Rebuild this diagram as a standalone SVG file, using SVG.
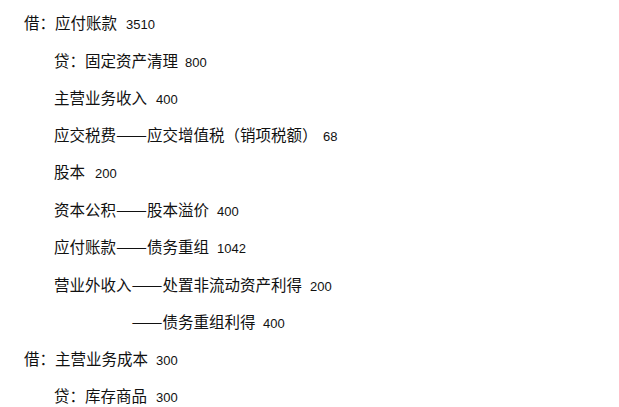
<svg xmlns="http://www.w3.org/2000/svg" width="619" height="407" viewBox="0 0 619 407">
<style>
.t{font-family:"Noto Sans CJK SC","Noto Sans",sans-serif;font-size:15.5px;fill:#111}
.n{font-family:"Liberation Sans",Arial,sans-serif;font-size:13px;fill:#111}
</style>
<rect width="619" height="407" fill="#fff"/>
<g id="line1"><text class="t" x="24" y="28.5">借：应付账款</text><text class="n" x="126" y="28.5">3510</text></g>
<g id="line2"><text class="t" x="54" y="66.5">贷：固定资产清理</text><text class="n" x="185" y="66.5">800</text></g>
<g id="line3"><text class="t" x="54" y="103.5">主营业务收入</text><text class="n" x="156" y="103.5">400</text></g>
<g id="line4"><text class="t" x="54" y="140.5">应交税费<tspan x="116" textLength="31" lengthAdjust="spacingAndGlyphs">——</tspan><tspan x="147">应交增值税（销项税额）</tspan></text><text class="n" x="323" y="140.5">68</text></g>
<g id="line5"><text class="t" x="54" y="178">股本</text><text class="n" x="95" y="178">200</text></g>
<g id="line6"><text class="t" x="54" y="215.5">资本公积<tspan x="116" textLength="31" lengthAdjust="spacingAndGlyphs">——</tspan><tspan x="147">股本溢价</tspan></text><text class="n" x="217" y="215.5">400</text></g>
<g id="line7"><text class="t" x="54" y="252.5">应付账款<tspan x="116" textLength="31" lengthAdjust="spacingAndGlyphs">——</tspan><tspan x="147">债务重组</tspan></text><text class="n" x="217" y="252.5">1042</text></g>
<g id="line8"><text class="t" x="54" y="290.5">营业外收入<tspan x="131.5" textLength="31" lengthAdjust="spacingAndGlyphs">——</tspan><tspan x="162.5">处置非流动资产利得</tspan></text><text class="n" x="310" y="290.5">200</text></g>
<g id="line9"><text class="t" y="327.5"><tspan x="131.5" textLength="31" lengthAdjust="spacingAndGlyphs">——</tspan><tspan x="162.5">债务重组利得</tspan></text><text class="n" x="263" y="327.5">400</text></g>
<g id="line10"><text class="t" x="24" y="364.5">借：主营业务成本</text><text class="n" x="156" y="364.5">300</text></g>
<g id="line11"><text class="t" x="54" y="402">贷：库存商品</text><text class="n" x="156" y="402">300</text></g>
<g id="connectors"/>
</svg>
